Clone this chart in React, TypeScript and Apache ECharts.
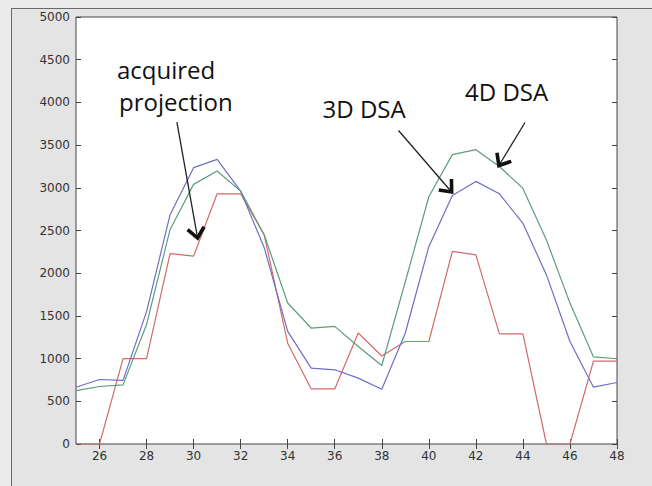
import React, { useEffect, useRef } from "react";
import * as echarts from "echarts";

// x positions (frame index)
const X = [25, 26, 27, 28, 29, 30, 31, 32, 33, 34, 35, 36, 37, 38, 39, 40, 41, 42, 43, 44, 45, 46, 47, 48];
// acquired projection (red)
const RED = [0, 0, 1000, 1000, 2230, 2200, 2930, 2930, 2450, 1180, 645, 645, 1300, 1030, 1200, 1200, 2255, 2215, 1290, 1290, 0, 0, 970, 970];
// 3D DSA (blue)
const BLUE = [665, 755, 745, 1550, 2685, 3236, 3333, 2960, 2300, 1318, 889, 869, 771, 642, 1300, 2311, 2910, 3075, 2930, 2584, 1980, 1200, 665, 720];
// 4D DSA (green)
const GREEN = [626, 673, 692, 1400, 2512, 3040, 3196, 2961, 2450, 1651, 1358, 1377, 1142, 919, 1900, 2895, 3388, 3446, 3250, 2993, 2389, 1650, 1020, 998];

const X_TICKS = [26, 28, 30, 32, 34, 36, 38, 40, 42, 44, 46, 48];

// annotations (data coordinates)
const LABELS = [
  { text: "acquired", x: 26.74, y: 4380 },
  { text: "projection", x: 26.83, y: 4005 },
  { text: "3D DSA", x: 35.48, y: 3925 },
  { text: "4D DSA", x: 41.54, y: 4125 },
];
const ARROWS = [
  { from: [29.29, 3770], to: [30.17, 2412] },
  { from: [38.71, 3671], to: [40.97, 2951] },
  { from: [44.09, 3765], to: [42.98, 3261] },
];

export default function App() {
  const ref = useRef<HTMLDivElement>(null);
  useEffect(() => {
    document.body.style.margin = "0";
    const chart = echarts.init(ref.current!, undefined, { renderer: "svg" });
    const mk = (vals: number[]) => X.map((x, i) => [x, vals[i]]);
    const tickStyle = { show: true, inside: true, length: 5, lineStyle: { color: "#444", width: 1 } };
    const plain = (v: number) => String(v);
    chart.setOption({
      animation: false,
      backgroundColor: "transparent",
      grid: {
        left: 76,
        right: 35,
        top: 17,
        bottom: 42,
        show: true,
        backgroundColor: "#ffffff",
        borderColor: "#444",
        borderWidth: 1,
      },
      xAxis: [
        {
          type: "value",
          min: 25,
          max: 48,
          position: "bottom",
          axisLine: { show: false },
          axisTick: { ...tickStyle, customValues: X_TICKS },
          axisLabel: { customValues: X_TICKS, formatter: plain, color: "#333", fontSize: 12, margin: 6, fontFamily: "DejaVu Sans" },
          splitLine: { show: false },
        },
        {
          type: "value",
          min: 25,
          max: 48,
          position: "top",
          axisLine: { show: false },
          axisTick: { ...tickStyle, customValues: X_TICKS },
          axisLabel: { show: false },
          splitLine: { show: false },
        },
      ],
      yAxis: [
        {
          type: "value",
          min: 0,
          max: 5000,
          interval: 500,
          position: "left",
          axisLine: { show: false },
          axisTick: tickStyle,
          axisLabel: { formatter: plain, color: "#333", fontSize: 12, margin: 6, fontFamily: "DejaVu Sans" },
          splitLine: { show: false },
        },
        {
          type: "value",
          min: 0,
          max: 5000,
          interval: 500,
          position: "right",
          axisLine: { show: false },
          axisTick: tickStyle,
          axisLabel: { show: false },
          splitLine: { show: false },
        },
      ],
      series: [
        { type: "line", data: mk(RED), symbol: "none", lineStyle: { color: "#d36a6a", width: 1.2 }, xAxisIndex: 0, yAxisIndex: 0 },
        { type: "line", data: mk(BLUE), symbol: "none", lineStyle: { color: "#6e6ec4", width: 1.2 }, xAxisIndex: 0, yAxisIndex: 0 },
        { type: "line", data: mk(GREEN), symbol: "none", lineStyle: { color: "#5e9c7c", width: 1.2 }, xAxisIndex: 0, yAxisIndex: 0 },
      ],
    });

    const px = (p: number[]) => chart.convertToPixel({ gridIndex: 0 }, p) as number[];
    const elements: any[] = [];
    LABELS.forEach((l) => {
      const [x, y] = px([l.x, l.y]);
      elements.push({
        type: "text",
        x,
        y,
        z: 100,
        style: {
          text: l.text,
          fill: "#111",
          font: "24px 'Open Sans'",
          align: "left",
          verticalAlign: "middle",
        },
      });
    });
    ARROWS.forEach((a) => {
      const s = px(a.from);
      const t = px(a.to);
      const dx = t[0] - s[0];
      const dy = t[1] - s[1];
      const len = Math.hypot(dx, dy);
      const ux = dx / len;
      const uy = dy / len;
      const L = 13;
      const th = (40 * Math.PI) / 180;
      const rot = (ang: number) => [ux * Math.cos(ang) - uy * Math.sin(ang), ux * Math.sin(ang) + uy * Math.cos(ang)];
      const r1 = rot(th);
      const r2 = rot(-th);
      elements.push({
        type: "line",
        z: 100,
        shape: { x1: s[0], y1: s[1], x2: t[0], y2: t[1] },
        style: { stroke: "#222", lineWidth: 1.3 },
      });
      elements.push({
        type: "polyline",
        z: 101,
        shape: {
          points: [
            [t[0] - L * r1[0], t[1] - L * r1[1]],
            [t[0], t[1]],
            [t[0] - L * r2[0], t[1] - L * r2[1]],
          ],
        },
        style: { stroke: "#111", lineWidth: 3.6, fill: "none", lineJoin: "miter" },
      });
    });
    chart.setOption({ graphic: elements });
    return () => chart.dispose();
  }, []);

  return (
    <div style={{ position: "relative", width: 652, height: 486, background: "#ececec", overflow: "hidden" }}>
      <div
        style={{
          position: "absolute",
          left: 11,
          top: 8,
          width: 700,
          height: 600,
          background: "#e4e4e4",
          borderLeft: "1.5px solid #6a6a6a",
          borderTop: "1.5px solid #6a6a6a",
        }}
      />
      <div ref={ref} style={{ position: "absolute", left: 0, top: 0, width: 652, height: 486 }} />
    </div>
  );
}
